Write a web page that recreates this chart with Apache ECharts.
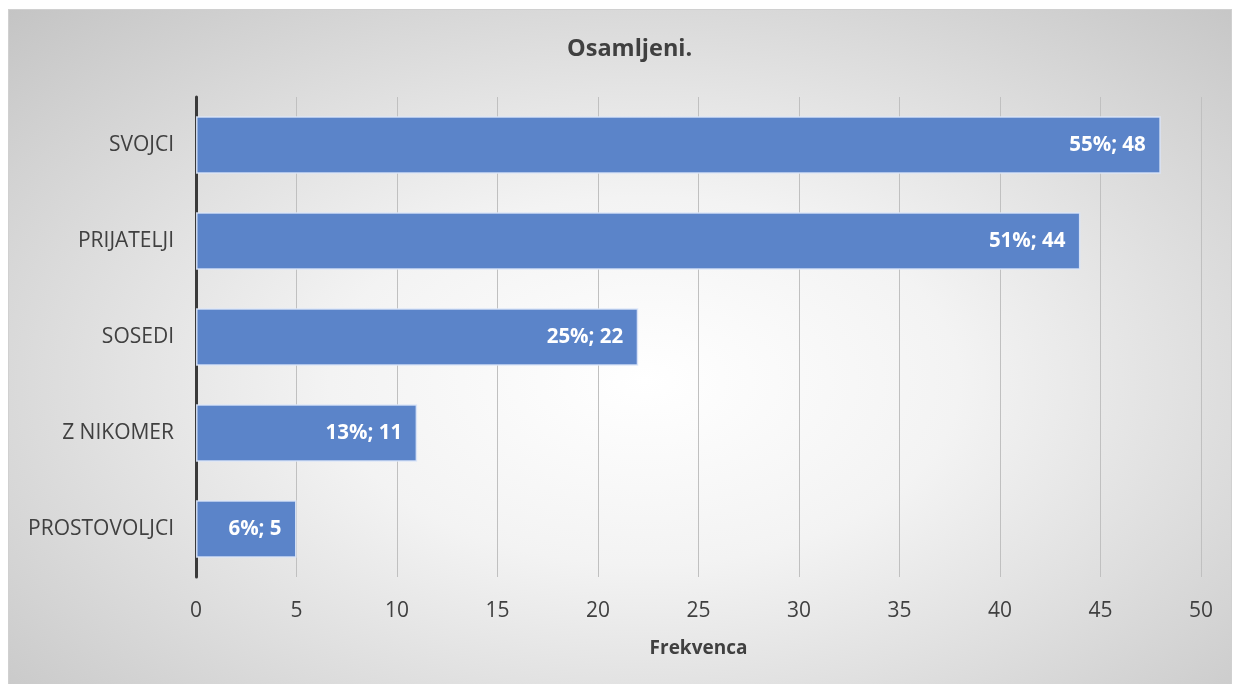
<!DOCTYPE html>
<html><head><meta charset="utf-8">
<script src="https://cdn.jsdelivr.net/npm/echarts@6/dist/echarts.min.js"></script>
<style>
html,body{margin:0;padding:0;background:#fff;width:1233px;height:684px;overflow:hidden}
#c{position:absolute;left:8px;top:9px;width:1224px;height:676px;border:1px solid #d0d0d0;box-sizing:border-box;
background:radial-gradient(ellipse farthest-corner at 52% 55%, #ffffff 0%, #f3f3f3 35%, #c4c4c4 100%);}
</style></head>
<body><div id="c"></div>
<script>
const categories = ['SVOJCI','PRIJATELJI','SOSEDI','Z NIKOMER','PROSTOVOLJCI'];
const values = [48,44,22,11,5];
const percents = [55,51,25,13,6];
const xTicks = [0,50,5];
const chart = echarts.init(document.getElementById('c'), null, {renderer:'canvas'});
const font = "'Open Sans', 'Liberation Sans', sans-serif";
chart.setOption({
  backgroundColor:'transparent',
  animation:false,
  title:{text:'Osamljeni.', left:553, top:22,
    textStyle:{fontFamily:font, fontSize:23.5, fontWeight:'bold', color:'#404040'}},
  grid:{left:187, width:1005, top:87, height:480},
  xAxis:{type:'value', min:xTicks[0], max:xTicks[1], interval:xTicks[2],
    name:'Frekvenca', nameLocation:'middle', nameGap:62,
    nameTextStyle:{fontFamily:font, fontSize:19, fontWeight:'bold', color:'#404040'},
    axisLine:{show:false}, axisTick:{show:false},
    axisLabel:{fontFamily:font, fontSize:21, color:'#404040', margin:24},
    splitLine:{lineStyle:{color:'#c0c0c0', width:1}}},
  yAxis:{type:'category', data:categories, inverse:true,
    axisLine:{show:true, lineStyle:{color:'#3a3a3a', width:3}},
    axisTick:{show:false},
    axisLabel:{fontFamily:font, fontSize:21, color:'#404040', margin:22}},
  series:[{type:'bar', data:values, barCategoryGap:'40%',
    itemStyle:{color:'#5b84c9', borderColor:'rgba(220,230,248,0.9)', borderWidth:1.5},
    label:{show:true, position:'insideRight', distance:15,
      fontFamily:font, fontSize:20.5, fontWeight:'bold', color:'#ffffff',
      formatter:p=>percents[p.dataIndex]+'%; '+values[p.dataIndex]}}]
});
</script></body></html>
